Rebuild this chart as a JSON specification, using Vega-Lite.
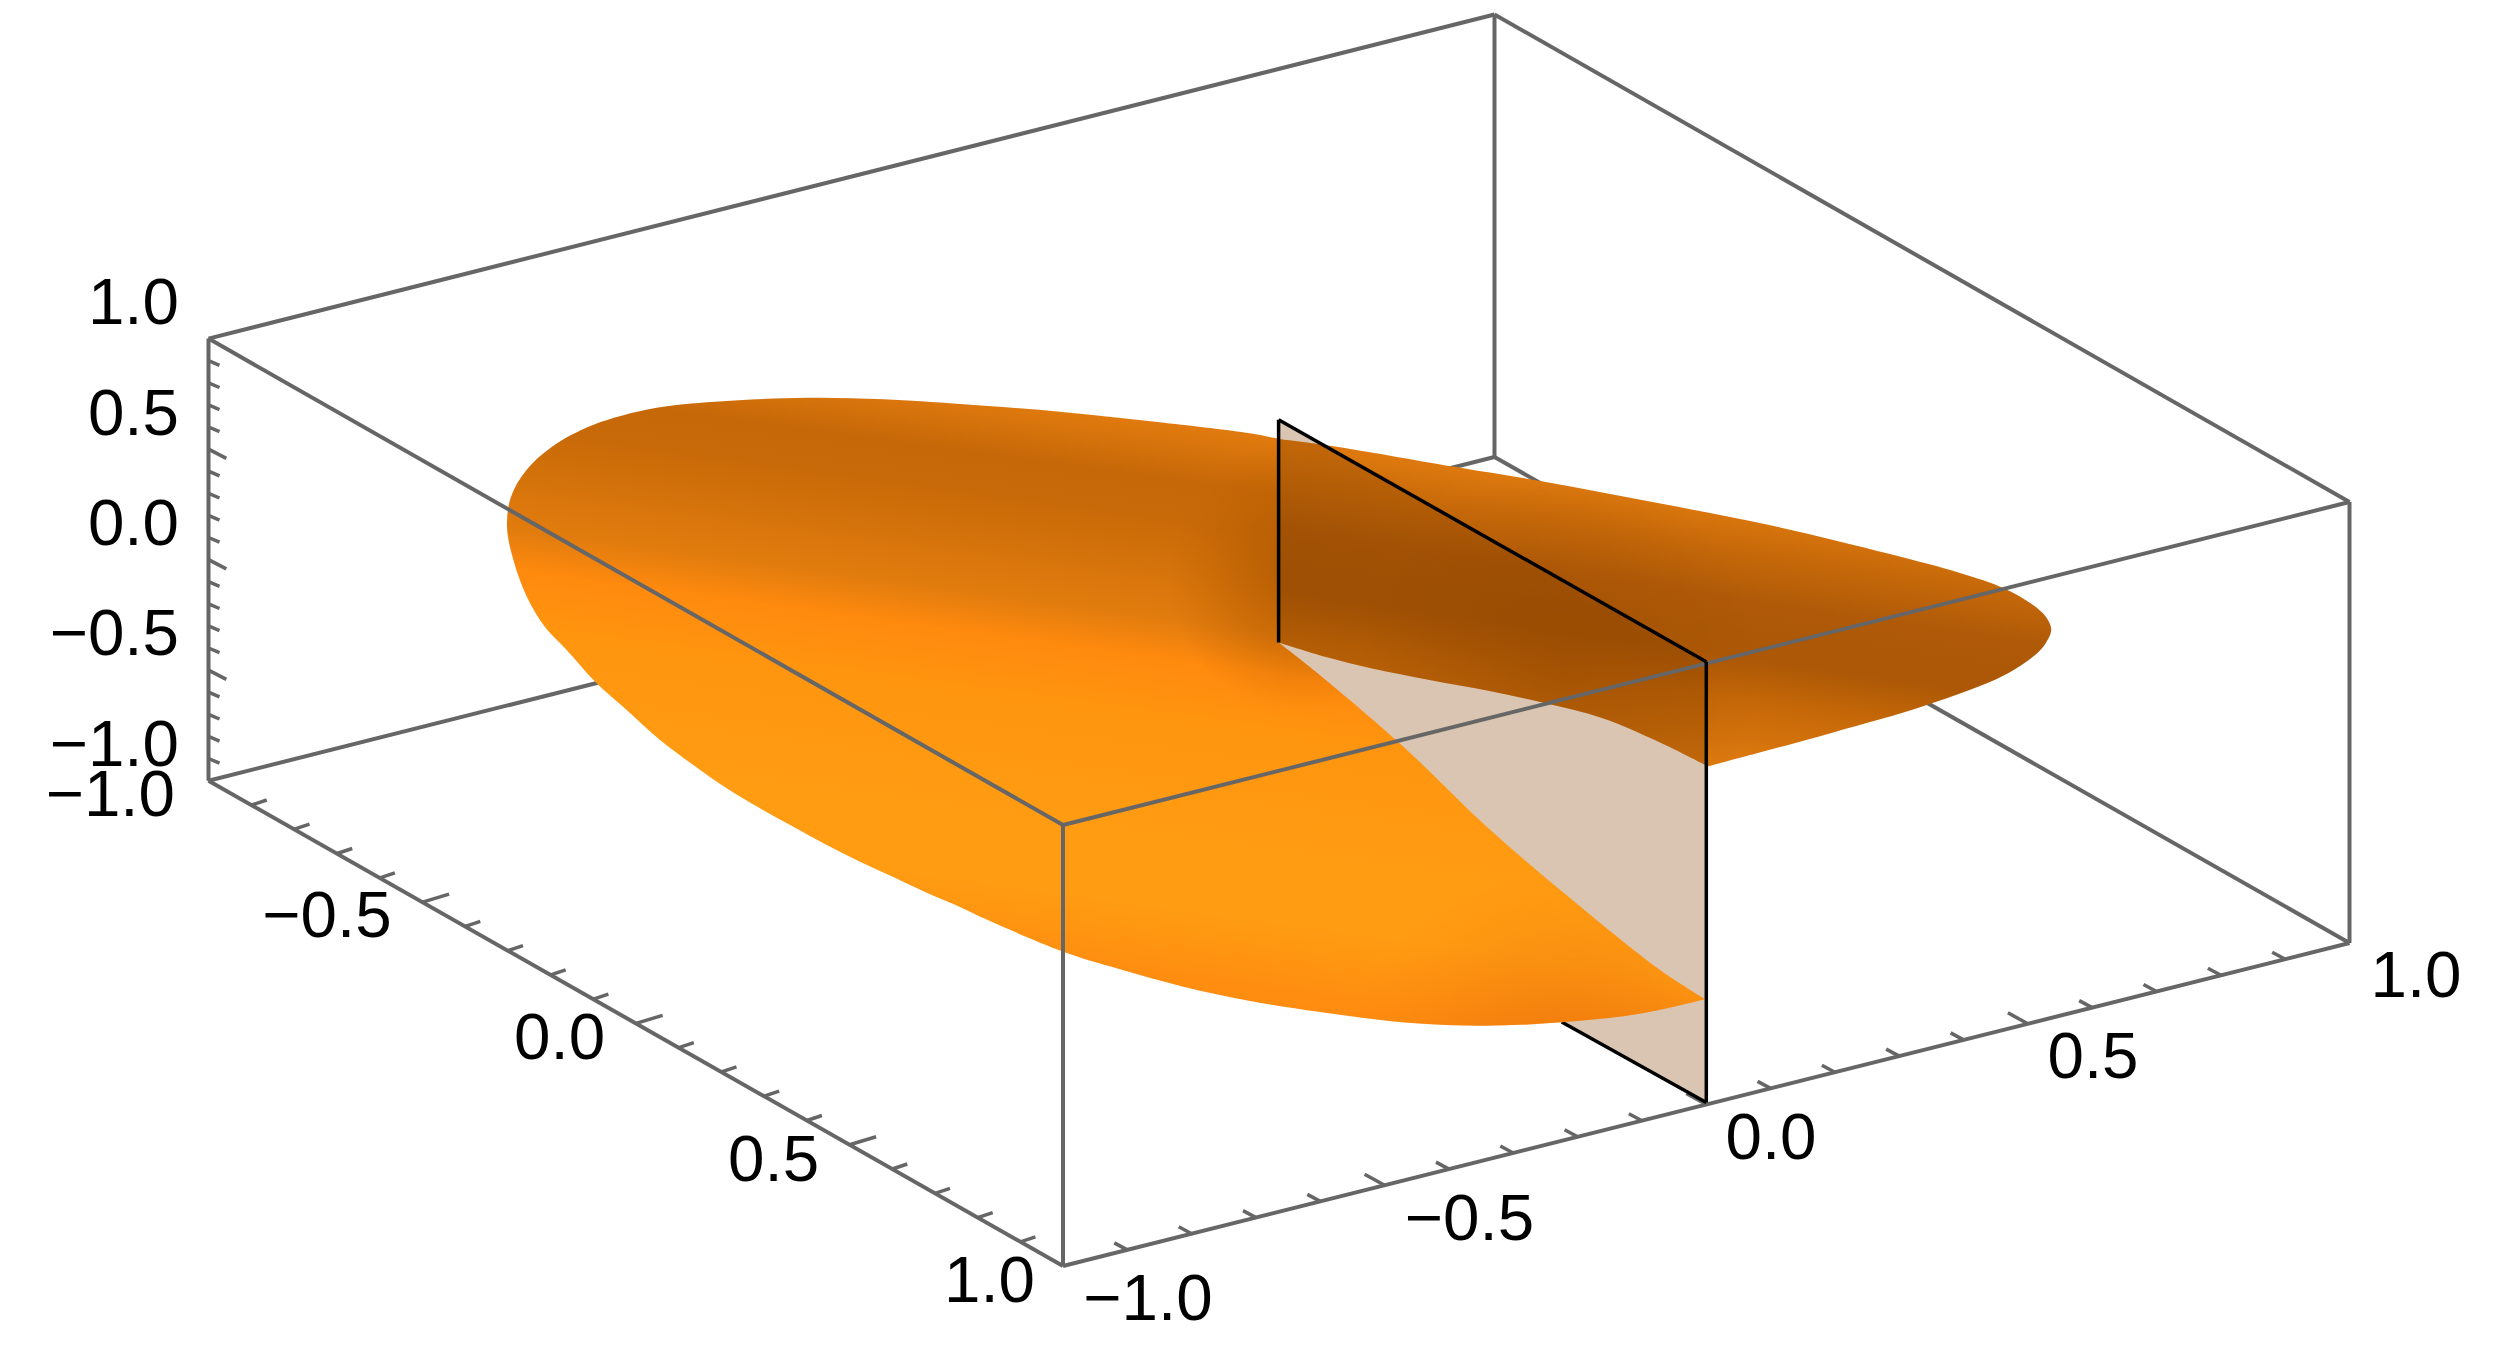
{
"$schema":"https://vega.github.io/schema/vega-lite/v6.json",
"width":2500,"height":1352,"padding":0,"autosize":{"type":"fit","contains":"padding"},
"background":"white","view":{"stroke":null},
"datasets":{
"edgesBack":[{"x":208.5,"y":338.6,"x2":1494.5,"y2":14.5},{"x":1494.5,"y":14.5,"x2":2349.5,"y2":502},{"x":208.5,"y":338.6,"x2":208.5,"y2":780.7},{"x":1494.5,"y":14.5,"x2":1494.5,"y2":457},{"x":2349.5,"y":502,"x2":2349.5,"y2":943},{"x":208.5,"y":780.7,"x2":1063,"y2":1266},{"x":1063,"y":1266,"x2":2349.5,"y2":943},{"x":208.5,"y":780.7,"x2":1494.5,"y2":457},{"x":1494.5,"y":457,"x2":2349.5,"y2":943}],
"edgesFront":[{"x":208.5,"y":338.6,"x2":1063,"y2":825},{"x":1063,"y":825,"x2":2349.5,"y2":502},{"x":1063,"y":825,"x2":1063,"y2":1266}],
"ticks":[
{"x":208.5,"y":360.7,"x2":219.5,"y2":365.4},{"x":208.5,"y":382.8,"x2":219.5,"y2":387.5},{"x":208.5,"y":404.9,"x2":219.5,"y2":409.6},{"x":208.5,"y":427,"x2":219.5,"y2":431.7},{"x":208.5,"y":449.1,"x2":226.3,"y2":458.4},{"x":208.5,"y":471.2,"x2":219.5,"y2":475.9},{"x":208.5,"y":493.3,"x2":219.5,"y2":498},{"x":208.5,"y":515.4,"x2":219.5,"y2":520.1},{"x":208.5,"y":537.5,"x2":219.5,"y2":542.2},{"x":208.5,"y":559.6,"x2":226.3,"y2":568.9},{"x":208.5,"y":581.7,"x2":219.5,"y2":586.4},{"x":208.5,"y":603.8,"x2":219.5,"y2":608.5},{"x":208.5,"y":625.9,"x2":219.5,"y2":630.6},{"x":208.5,"y":648,"x2":219.5,"y2":652.7},{"x":208.5,"y":670.1,"x2":226.3,"y2":679.4},{"x":208.5,"y":692.2,"x2":219.5,"y2":696.9},{"x":208.5,"y":714.3,"x2":219.5,"y2":719},{"x":208.5,"y":736.4,"x2":219.5,"y2":741.1},{"x":208.5,"y":758.5,"x2":219.5,"y2":763.2},
{"x":251.8,"y":805,"x2":266.8,"y2":800},{"x":294.5,"y":829.2,"x2":309.5,"y2":824.2},{"x":337.2,"y":853.5,"x2":352.2,"y2":848.5},{"x":379.9,"y":877.8,"x2":394.9,"y2":872.8},{"x":422.6,"y":902.1,"x2":449.1,"y2":894.1},{"x":465.3,"y":926.3,"x2":480.3,"y2":921.3},{"x":508,"y":950.6,"x2":523,"y2":945.6},{"x":550.7,"y":974.9,"x2":565.7,"y2":969.9},{"x":593.4,"y":999.1,"x2":608.4,"y2":994.1},{"x":636.1,"y":1023.4,"x2":662.6,"y2":1015.4},{"x":678.8,"y":1047.7,"x2":693.8,"y2":1042.7},{"x":721.5,"y":1071.9,"x2":736.5,"y2":1066.9},{"x":764.2,"y":1096.2,"x2":779.2,"y2":1091.2},{"x":806.9,"y":1120.5,"x2":821.9,"y2":1115.5},{"x":849.6,"y":1144.7,"x2":876.1,"y2":1136.7},{"x":892.3,"y":1169,"x2":907.3,"y2":1164},{"x":935,"y":1193.3,"x2":950,"y2":1188.3},{"x":977.7,"y":1217.6,"x2":992.7,"y2":1212.6},{"x":1020.4,"y":1241.8,"x2":1035.4,"y2":1236.8},
{"x":1127.3,"y":1249.9,"x2":1114.3,"y2":1242.9},{"x":1191.7,"y":1233.7,"x2":1178.7,"y2":1226.7},{"x":1256,"y":1217.6,"x2":1243,"y2":1210.6},{"x":1320.3,"y":1201.4,"x2":1307.3,"y2":1194.4},{"x":1384.6,"y":1185.3,"x2":1364.6,"y2":1174.3},{"x":1449,"y":1169.1,"x2":1436,"y2":1162.1},{"x":1513.3,"y":1153,"x2":1500.3,"y2":1146},{"x":1577.6,"y":1136.8,"x2":1564.6,"y2":1129.8},{"x":1641.9,"y":1120.7,"x2":1628.9,"y2":1113.7},{"x":1706.3,"y":1104.5,"x2":1686.3,"y2":1093.5},{"x":1770.6,"y":1088.4,"x2":1757.6,"y2":1081.4},{"x":1834.9,"y":1072.2,"x2":1821.9,"y2":1065.2},{"x":1899.2,"y":1056.1,"x2":1886.2,"y2":1049.1},{"x":1963.6,"y":1039.9,"x2":1950.6,"y2":1032.9},{"x":2027.9,"y":1023.8,"x2":2007.9,"y2":1012.8},{"x":2092.2,"y":1007.6,"x2":2079.2,"y2":1000.6},{"x":2156.5,"y":991.5,"x2":2143.5,"y2":984.5},{"x":2220.9,"y":975.3,"x2":2207.9,"y2":968.3},{"x":2285.2,"y":959.2,"x2":2272.2,"y2":952.2}],
"back":[{"i":0,"x":1278.6,"y":642.4},{"i":0.1,"x":1278.6,"y":642.4},{"i":0.2,"x":1278.6,"y":439},{"i":1,"x":1278.6,"y":439},{"i":2,"x":1332,"y":446},{"i":3,"x":1452.6,"y":466.6},{"i":4,"x":1544.4,"y":481.7},{"i":5,"x":1659,"y":503.3},{"i":6,"x":1774,"y":526},{"i":7,"x":1889,"y":553.8},{"i":8,"x":1960,"y":573},{"i":9,"x":2003.7,"y":588.2},{"i":10,"x":2032,"y":604.3},{"i":11,"x":2046,"y":617},{"i":12,"x":2051.3,"y":629.6},{"i":13,"x":2047,"y":641},{"i":14,"x":2038,"y":652.5},{"i":15,"x":2003.7,"y":675.5},{"i":16,"x":1926,"y":705.3},{"i":17,"x":1831.5,"y":732.9},{"i":18,"x":1708,"y":766.4},{"i":18.1,"x":1708,"y":766.4},{"i":19,"x":1659,"y":742},{"i":20,"x":1602,"y":718},{"i":21,"x":1544.4,"y":703},{"i":22,"x":1487,"y":690.6},{"i":23,"x":1429.6,"y":680},{"i":24,"x":1372,"y":668.6},{"i":25,"x":1326,"y":657},{"i":26,"x":1278.6,"y":642.4},{"i":26.1,"x":1278.6,"y":642.4}],
"front":[{"i":0,"x":1278.6,"y":642.4},{"i":0.1,"x":1278.6,"y":642.4},{"i":0.2,"x":1278.6,"y":439},{"i":1,"x":1278.6,"y":439},{"i":2,"x":1250,"y":433.3},{"i":3,"x":1164,"y":422.7},{"i":4,"x":1062,"y":412},{"i":5,"x":960,"y":404},{"i":6,"x":884,"y":399.3},{"i":7,"x":807,"y":397.7},{"i":8,"x":715,"y":401.7},{"i":9,"x":654,"y":408.3},{"i":10,"x":593,"y":425},{"i":11,"x":552,"y":446.7},{"i":12,"x":526.5,"y":470},{"i":13,"x":511,"y":496.7},{"i":14,"x":507,"y":526.7},{"i":15,"x":513.4,"y":560},{"i":16,"x":526.8,"y":596.7},{"i":17,"x":545,"y":627},{"i":18,"x":566.7,"y":650},{"i":19,"x":596.7,"y":683.3},{"i":20,"x":626.7,"y":710},{"i":21,"x":660,"y":740},{"i":22,"x":693.3,"y":765},{"i":23,"x":726.7,"y":788.3},{"i":24,"x":760,"y":808.3},{"i":25,"x":793.3,"y":826.7},{"i":26,"x":826.7,"y":845},{"i":27,"x":860,"y":861.7},{"i":28,"x":893.3,"y":877},{"i":29,"x":926.7,"y":892.7},{"i":30,"x":960,"y":907},{"i":31,"x":983.3,"y":918},{"i":32,"x":1063.3,"y":951.7},{"i":33,"x":1116.7,"y":968.3},{"i":34,"x":1183.3,"y":986.7},{"i":35,"x":1250,"y":1001},{"i":36,"x":1320,"y":1012},{"i":37,"x":1408,"y":1022.7},{"i":38,"x":1484.7,"y":1025.7},{"i":39,"x":1561,"y":1022.3},{"i":40,"x":1637.8,"y":1014},{"i":41,"x":1705,"y":999.2},{"i":41.1,"x":1705,"y":999.2},{"i":42,"x":1659,"y":969.3},{"i":43,"x":1573,"y":900.5},{"i":44,"x":1487,"y":827},{"i":45,"x":1401,"y":744.4},{"i":46,"x":1314.8,"y":670.9},{"i":47,"x":1278.6,"y":642.4},{"i":47.1,"x":1278.6,"y":642.4}],
"plane":[{"i":0,"x":1278.6,"y":419.7},{"i":1,"x":1706.3,"y":661.7},{"i":2,"x":1706.3,"y":1102.5},{"i":3,"x":1278.6,"y":861}],
"planeBottom":[{"x":1561.7,"y":1022,"x2":1706.3,"y2":1102.5}],
"planeEdges":[{"x":1278.6,"y":419.7,"x2":1706.3,"y2":661.7},{"x":1706.3,"y":661.7,"x2":1706.3,"y2":1102.5},{"x":1278.6,"y":419.7,"x2":1278.6,"y2":642.4}],
"zLabels":[{"t":"1.0","x":179,"y":300},{"t":"0.5","x":179,"y":410.6},{"t":"0.0","x":179,"y":521},{"t":"−0.5","x":179,"y":631.4},{"t":"−1.0","x":179,"y":742},{"t":"−1.0","x":175,"y":792}],
"labels":[{"t":"−0.5","x":327,"y":913},{"t":"0.0","x":559.6,"y":1035},{"t":"0.5","x":773.6,"y":1156.6},{"t":"1.0","x":989.5,"y":1277.8},{"t":"−1.0","x":1148,"y":1295.7},{"t":"−0.5","x":1469.5,"y":1216},{"t":"0.0","x":1771,"y":1134.7},{"t":"0.5","x":2093,"y":1054},{"t":"1.0","x":2416,"y":973}]
},
"encoding":{
"x":{"field":"x","type":"quantitative","scale":{"domain":[0,2500],"nice":false,"zero":false},"axis":null},
"y":{"field":"y","type":"quantitative","scale":{"domain":[1352,0],"nice":false,"zero":false},"axis":null}
},
"layer":[
{"data":{"name":"edgesBack"},"mark":{"type":"rule","color":"#666666","strokeWidth":4},"encoding":{"x2":{"field":"x2"},"y2":{"field":"y2"}}},
{"data":{"name":"ticks"},"mark":{"type":"rule","color":"#666666","strokeWidth":3.5},"encoding":{"x2":{"field":"x2"},"y2":{"field":"y2"}}},
{"data":{"name":"back"},"mark":{"type":"line","interpolate":"catmull-rom","stroke":"transparent","strokeWidth":0,"fill":{"gradient":"linear","x1":0.67,"y1":0,"x2":0.33,"y2":1,"stops":[{"offset":0,"color":"#E88010"},{"offset":0.22,"color":"#DC780E"},{"offset":0.32,"color":"#C86A0A"},{"offset":0.46,"color":"#B05A08"},{"offset":0.55,"color":"#AC5806"},{"offset":0.62,"color":"#AC5806"},{"offset":0.74,"color":"#C66808"},{"offset":0.93,"color":"#E07C10"},{"offset":1,"color":"#E88010"}]}},"encoding":{"order":{"field":"i"}}},
{"data":{"name":"back"},"mark":{"type":"line","interpolate":"catmull-rom","stroke":"transparent","strokeWidth":0,"fill":{"gradient":"radial","x1":0.365,"y1":0.587,"r1":0,"x2":0.365,"y2":0.587,"r2":0.26,"stops":[{"offset":0,"color":"rgba(150,72,0,0.35)"},{"offset":1,"color":"rgba(150,72,0,0)"}]}},"encoding":{"order":{"field":"i"}}},
{"data":{"name":"plane"},"mark":{"type":"line","stroke":"transparent","strokeWidth":0,"fill":"rgba(128,62,0,0.3)"},"encoding":{"order":{"field":"i"}}},
{"data":{"name":"planeBottom"},"mark":{"type":"rule","color":"#000000","strokeWidth":3.5},"encoding":{"x2":{"field":"x2"},"y2":{"field":"y2"}}},
{"data":{"name":"front"},"mark":{"type":"line","interpolate":"catmull-rom","stroke":"transparent","strokeWidth":0,"fill":{"gradient":"linear","x1":0.63,"y1":0,"x2":0.37,"y2":1,"stops":[{"offset":0,"color":"#E48010"},{"offset":0.06,"color":"#E07A0E"},{"offset":0.14,"color":"#C66808"},{"offset":0.2,"color":"#C86A08"},{"offset":0.35,"color":"#E27C0E"},{"offset":0.41,"color":"#FF8A0E"},{"offset":0.5,"color":"#FF950F"},{"offset":0.68,"color":"#FF9C12"},{"offset":0.78,"color":"#FF9C12"},{"offset":0.88,"color":"#FF8E10"},{"offset":1,"color":"#F88410"}]}},"encoding":{"order":{"field":"i"}}},
{"data":{"name":"front"},"mark":{"type":"line","interpolate":"catmull-rom","stroke":"transparent","strokeWidth":0,"fill":{"gradient":"radial","x1":0.664,"y1":0.387,"r1":0,"x2":0.664,"y2":0.387,"r2":0.113,"stops":[{"offset":0,"color":"rgba(165,82,0,0.7)"},{"offset":0.5,"color":"rgba(175,88,0,0.4)"},{"offset":1,"color":"rgba(190,95,0,0)"}]}},"encoding":{"order":{"field":"i"}}},
{"data":{"name":"front"},"mark":{"type":"line","interpolate":"catmull-rom","stroke":"transparent","strokeWidth":0,"fill":{"gradient":"radial","x1":0.89,"y1":0.84,"r1":0,"x2":0.89,"y2":0.84,"r2":0.21,"stops":[{"offset":0,"color":"rgba(225,110,10,0.95)"},{"offset":0.5,"color":"rgba(235,118,12,0.45)"},{"offset":1,"color":"rgba(250,130,14,0)"}]}},"encoding":{"order":{"field":"i"}}},
{"data":{"name":"edgesFront"},"mark":{"type":"rule","color":"#666666","strokeWidth":4},"encoding":{"x2":{"field":"x2"},"y2":{"field":"y2"}}},
{"data":{"name":"planeEdges"},"mark":{"type":"rule","color":"#000000","strokeWidth":3.5},"encoding":{"x2":{"field":"x2"},"y2":{"field":"y2"}}},
{"data":{"name":"zLabels"},"mark":{"type":"text","font":"Liberation Sans","fontSize":65.5,"dy":4,"align":"right","baseline":"middle","color":"#000000"},"encoding":{"text":{"field":"t"}}},
{"data":{"name":"labels"},"mark":{"type":"text","font":"Liberation Sans","fontSize":65.5,"dy":4,"align":"center","baseline":"middle","color":"#000000"},"encoding":{"text":{"field":"t"}}}
]
}
